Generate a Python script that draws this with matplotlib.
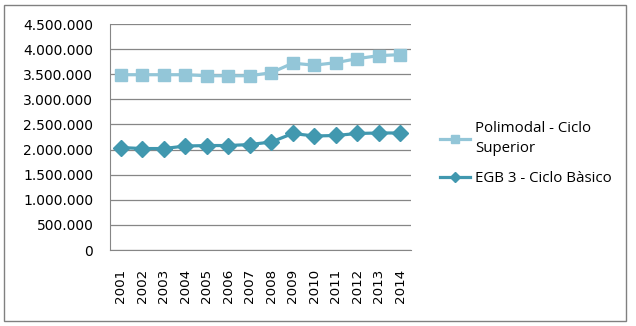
import matplotlib
matplotlib.use("Agg")
import matplotlib.pyplot as plt
from matplotlib.ticker import FuncFormatter
from matplotlib.patches import Rectangle

years = [str(y) for y in range(2001, 2015)]
polimodal = [3490000, 3490000, 3490000, 3490000, 3470000, 3470000, 3470000,
             3530000, 3720000, 3680000, 3730000, 3810000, 3870000, 3890000]
egb3 = [2040000, 2020000, 2020000, 2070000, 2080000, 2080000, 2100000,
        2150000, 2320000, 2270000, 2280000, 2320000, 2330000, 2330000]

c_poli = "#93C6D8"
c_egb = "#4198AF"
grid_c = "#868686"

fig = plt.figure(figsize=(6.36, 3.26), dpi=100)
# outer frame around the whole chart
fig.patches.append(Rectangle((4 / 636, 5 / 326), 622 / 636, 316 / 326,
                             transform=fig.transFigure, fill=False,
                             edgecolor="#808080", linewidth=1.0))

ax = fig.add_axes([110 / 636, 76 / 326, 301 / 636, 226 / 326])
x = range(len(years))
ax.plot(x, polimodal, color=c_poli, lw=2.3, marker="s", ms=9,
        label="Polimodal - Ciclo\nSuperior")
ax.plot(x, egb3, color=c_egb, lw=2.3, marker="D", ms=8,
        label="EGB 3 - Ciclo Bàsico")

ax.set_xlim(-0.5, len(years) - 0.5)
ax.set_ylim(0, 4500000)
ax.set_yticks(range(0, 4500001, 500000))
ax.yaxis.set_major_formatter(FuncFormatter(lambda v, p: f"{int(v):,}".replace(",", ".")))
ax.set_xticks(list(x))
ax.set_xticklabels(years, rotation=90, fontsize=9.7)
ax.tick_params(axis="y", labelsize=10, length=0, pad=12)
ax.tick_params(axis="x", length=0, pad=13.5)
ax.grid(axis="y", color=grid_c, lw=0.9)
ax.set_axisbelow(True)
for s in ["top", "right"]:
    ax.spines[s].set_visible(False)
ax.spines["left"].set_color(grid_c)
ax.spines["bottom"].set_color(grid_c)

leg = fig.legend(loc="upper left", bbox_to_anchor=(426 / 636, 1 - 108 / 326),
                 frameon=False, prop={"family": "Open Sans", "size": 10.8},
                 handlelength=2.0, handletextpad=0.35, labelspacing=1.0,
                 markerscale=0.6)
leg.get_texts()[0].set_linespacing(1.45)

fig.savefig("out.png", dpi=100)
